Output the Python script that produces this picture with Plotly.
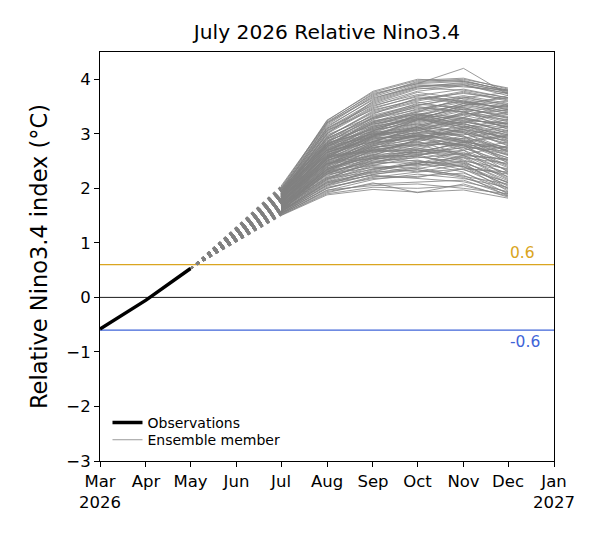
import plotly.graph_objects as go

# ---- data ----
obs_dates = ["2026-03-01", "2026-04-01", "2026-05-01"]
obs_vals = [-0.58, -0.05, 0.53]

member_dates = ["2026-07-01", "2026-08-01", "2026-09-01", "2026-10-01", "2026-11-01", "2026-12-01"]
members = [
    [1.50, 1.88, 1.98, 1.93, 1.97, 1.82],
    [1.51, 1.92, 2.10, 1.92, 2.08, 1.84],
    [1.53, 1.97, 2.05, 2.08, 2.00, 1.90],
    [1.54, 2.02, 2.18, 2.22, 2.28, 1.98],
    [1.56, 2.06, 2.25, 2.38, 2.22, 2.08],
    [1.57, 2.10, 2.32, 2.46, 2.58, 2.18],
    [1.58, 2.14, 2.40, 2.30, 2.44, 2.04],
    [1.59, 2.18, 2.48, 2.62, 2.70, 2.38],
    [1.60, 2.22, 2.55, 2.70, 2.52, 2.28],
    [1.61, 2.26, 2.58, 2.76, 2.88, 2.62],
    [1.62, 2.30, 2.50, 2.56, 2.64, 2.44],
    [1.63, 2.34, 2.70, 2.84, 2.80, 2.56],
    [1.64, 2.32, 2.64, 2.90, 3.04, 2.82],
    [1.65, 2.44, 2.76, 2.80, 2.96, 2.68],
    [1.66, 2.48, 2.82, 3.00, 3.12, 2.92],
    [1.67, 2.38, 2.62, 2.66, 2.74, 2.48],
    [1.68, 2.54, 2.90, 3.06, 3.18, 3.02],
    [1.69, 2.50, 2.86, 3.10, 2.94, 2.74],
    [1.70, 2.58, 2.96, 3.16, 3.30, 3.12],
    [1.71, 2.52, 2.72, 2.80, 2.60, 2.34],
    [1.72, 2.64, 3.00, 3.22, 3.36, 3.26],
    [1.73, 2.60, 3.04, 3.26, 3.14, 2.96],
    [1.74, 2.68, 3.12, 3.30, 3.46, 3.32],
    [1.75, 2.66, 2.92, 2.96, 3.02, 2.66],
    [1.76, 2.74, 3.16, 3.40, 3.52, 3.42],
    [1.77, 2.70, 3.02, 3.12, 2.86, 2.52],
    [1.78, 2.80, 3.22, 3.46, 3.60, 3.46],
    [1.79, 2.76, 3.26, 3.50, 3.40, 3.22],
    [1.80, 2.84, 3.30, 3.56, 3.70, 3.56],
    [1.81, 2.90, 3.24, 3.36, 3.24, 3.04],
    [1.82, 2.94, 3.40, 3.60, 3.76, 3.60],
    [1.83, 2.86, 3.36, 3.66, 3.56, 3.36],
    [1.84, 3.00, 3.46, 3.70, 3.82, 3.66],
    [1.85, 3.04, 3.50, 3.76, 3.64, 3.50],
    [1.86, 3.08, 3.56, 3.82, 3.90, 3.70],
    [1.87, 3.00, 3.60, 3.86, 3.94, 3.76],
    [1.88, 3.12, 3.64, 3.90, 3.86, 3.80],
    [1.90, 3.18, 3.70, 3.96, 4.00, 3.84],
    [1.93, 3.20, 3.74, 3.92, 4.20, 3.72],
    [1.96, 3.24, 3.78, 4.00, 3.96, 3.80],
    [2.00, 3.25, 3.76, 3.98, 4.02, 3.82],
    [2.04, 3.22, 3.72, 3.94, 3.98, 3.78],
    [1.55, 2.40, 2.95, 3.25, 3.45, 3.35],
    [1.60, 2.55, 3.05, 3.35, 3.55, 3.50],
    [1.95, 2.70, 2.85, 2.90, 2.75, 2.40],
    [2.00, 2.80, 3.00, 2.95, 2.70, 2.20],
    [1.90, 2.60, 2.70, 2.65, 2.50, 2.10],
    [1.85, 2.45, 2.55, 2.50, 2.40, 1.95],
    [1.65, 2.20, 2.35, 2.45, 2.70, 2.85],
    [1.70, 2.35, 2.60, 2.90, 3.20, 3.40],
    [1.75, 2.50, 2.80, 3.05, 3.30, 3.55],
    [1.80, 2.55, 2.75, 2.85, 3.10, 3.20],
    [1.58, 2.28, 2.52, 2.66, 2.84, 2.96],
    [1.62, 2.40, 2.68, 2.74, 2.62, 2.78],
    [1.72, 2.46, 2.66, 2.72, 2.92, 3.06],
    [1.78, 2.62, 2.88, 3.02, 2.98, 3.14],
    [1.82, 2.72, 2.98, 3.08, 3.28, 3.00],
    [1.88, 2.82, 3.08, 3.18, 3.34, 3.16],
    [1.92, 2.88, 3.14, 3.28, 3.48, 3.28],
    [1.66, 2.36, 2.58, 2.62, 2.38, 2.26],
    [1.60, 2.24, 2.44, 2.52, 2.34, 2.12],
    [1.56, 2.12, 2.28, 2.40, 2.56, 2.46],
    [1.68, 2.42, 2.74, 2.86, 2.62, 2.52],
    [1.74, 2.56, 2.84, 2.94, 3.06, 2.86],
    [1.84, 2.78, 3.12, 3.32, 3.20, 2.90],
    [1.86, 2.92, 3.28, 3.44, 3.62, 3.44],
    [1.94, 2.98, 3.32, 3.52, 3.68, 3.52],
    [1.98, 3.10, 3.52, 3.72, 3.58, 3.40],
    [1.52, 1.96, 2.16, 2.26, 2.18, 2.02],
    [1.54, 2.00, 2.22, 2.20, 2.36, 2.30],
    [1.57, 2.08, 2.30, 2.48, 2.46, 2.22],
    [1.63, 2.30, 2.46, 2.60, 2.76, 2.68],
    [1.70, 2.44, 2.78, 2.98, 2.88, 2.60],
    [1.76, 2.58, 2.94, 3.14, 3.26, 3.18],
    [1.80, 2.64, 3.06, 3.24, 3.42, 3.08],
    [1.89, 2.96, 3.38, 3.58, 3.44, 3.24],
    [1.97, 3.06, 3.44, 3.62, 3.78, 3.62],
    [1.64, 2.28, 2.42, 2.36, 2.50, 2.36],
    [1.73, 2.48, 2.70, 2.78, 2.84, 2.76],
    [1.83, 2.66, 2.90, 3.02, 3.14, 2.98],
    [1.51, 1.90, 2.02, 2.00, 2.05, 1.86],
    [1.53, 1.94, 2.08, 2.12, 2.15, 1.88],
    [1.55, 2.00, 2.20, 2.30, 2.35, 2.00],
    [1.57, 2.04, 2.26, 2.34, 2.20, 1.92],
    [1.59, 2.12, 2.36, 2.44, 2.40, 2.06],
    [1.61, 2.16, 2.42, 2.58, 2.48, 2.14],
    [1.62, 2.20, 2.46, 2.68, 2.82, 2.50],
    [1.64, 2.26, 2.56, 2.72, 2.66, 2.32],
    [1.66, 2.30, 2.62, 2.80, 2.92, 2.70],
    [1.67, 2.34, 2.66, 2.88, 3.00, 2.88],
    [1.69, 2.40, 2.74, 2.92, 3.08, 2.94],
    [1.70, 2.46, 2.80, 2.98, 2.90, 2.64],
    [1.72, 2.50, 2.86, 3.08, 3.22, 3.10],
    [1.73, 2.54, 2.92, 3.12, 3.04, 2.80],
    [1.75, 2.58, 2.98, 3.20, 3.38, 3.30],
    [1.76, 2.62, 3.02, 3.28, 3.18, 2.98],
    [1.78, 2.66, 3.08, 3.34, 3.50, 3.38],
    [1.79, 2.70, 3.14, 3.38, 3.30, 3.12],
    [1.81, 2.76, 3.20, 3.42, 3.58, 3.48],
    [1.82, 2.80, 3.18, 3.30, 3.12, 2.84],
    [1.84, 2.84, 3.28, 3.52, 3.66, 3.54],
    [1.85, 2.90, 3.34, 3.54, 3.48, 3.30],
    [1.87, 2.94, 3.42, 3.64, 3.74, 3.64],
    [1.88, 3.02, 3.48, 3.68, 3.60, 3.44],
    [1.90, 3.06, 3.54, 3.78, 3.88, 3.74],
    [1.91, 3.10, 3.58, 3.84, 3.80, 3.66],
    [1.94, 3.14, 3.62, 3.88, 3.92, 3.78],
    [1.99, 3.16, 3.68, 3.92, 3.96, 3.80],
    [2.02, 3.20, 3.66, 3.86, 3.90, 3.74],
    [1.60, 2.30, 2.72, 3.02, 3.24, 3.20],
    [1.65, 2.42, 2.84, 3.14, 3.36, 3.44],
    [1.72, 2.56, 2.96, 3.26, 3.52, 3.60],
    [1.78, 2.68, 3.06, 3.32, 3.56, 3.66],
    [1.85, 2.74, 3.00, 3.06, 2.96, 2.46],
    [1.90, 2.78, 2.94, 2.92, 2.80, 2.30],
    [1.95, 2.84, 3.04, 3.00, 2.84, 2.56],
    [1.80, 2.58, 2.68, 2.70, 2.56, 2.16],
    [1.74, 2.46, 2.60, 2.58, 2.46, 2.00],
    [1.68, 2.32, 2.48, 2.46, 2.30, 1.90],
    [1.62, 2.18, 2.30, 2.34, 2.24, 1.86],
    [1.58, 2.10, 2.24, 2.18, 2.12, 1.94],
    [1.66, 2.26, 2.38, 2.42, 2.60, 2.54],
    [1.70, 2.38, 2.56, 2.64, 2.86, 2.98],
    [1.76, 2.52, 2.78, 2.90, 3.12, 3.26],
    [1.82, 2.66, 2.94, 3.10, 3.40, 3.52],
    [1.88, 2.76, 3.10, 3.26, 3.52, 3.70],
    [1.92, 2.86, 3.22, 3.40, 3.66, 3.76],
    [1.64, 2.34, 2.54, 2.60, 2.80, 2.74],
    [1.69, 2.44, 2.70, 2.82, 2.78, 2.62],
    [1.75, 2.54, 2.82, 2.96, 2.86, 2.70],
    [1.81, 2.62, 2.86, 2.98, 3.08, 2.92],
    [1.86, 2.70, 2.96, 3.12, 3.22, 3.06],
    [1.91, 2.80, 3.18, 3.34, 3.28, 3.14],
    [1.96, 2.92, 3.30, 3.48, 3.40, 3.18],
    [1.77, 2.72, 3.10, 3.28, 3.08, 2.78],
    [1.83, 2.82, 3.20, 3.36, 3.16, 2.88],
    [1.71, 2.60, 2.98, 3.18, 3.02, 2.72],
    [1.63, 2.36, 2.78, 2.96, 2.78, 2.42],
    [1.57, 2.16, 2.52, 2.70, 2.60, 2.26],
    [1.54, 2.06, 2.34, 2.50, 2.42, 2.10],
]

thresholds = [0.6, -0.6]
threshold_labels = ["0.6", "-0.6"]
threshold_colors = ["#DAA520", "#3F64D8"]

tick_dates = ["2026-03-01", "2026-04-01", "2026-05-01", "2026-06-01", "2026-07-01", "2026-08-01",
              "2026-09-01", "2026-10-01", "2026-11-01", "2026-12-01", "2027-01-01"]
tick_text = ["Mar<br>2026", "Apr", "May", "Jun", "Jul", "Aug", "Sep", "Oct", "Nov", "Dec", "Jan<br>2027"]

FONT = "DejaVu Sans"
GRAY = "#808080"

fig = go.Figure()

# dashed bridging segments from last observation to first forecast month
for m in members:
    fig.add_trace(go.Scatter(
        x=[obs_dates[-1], member_dates[0]], y=[obs_vals[-1], m[0]],
        mode="lines", line=dict(color=GRAY, width=1.2, dash="3px,4.4px"),
        showlegend=False, hoverinfo="skip"))

# ensemble members
for i, m in enumerate(members):
    fig.add_trace(go.Scatter(
        x=member_dates, y=m, mode="lines",
        line=dict(color=GRAY, width=0.8),
        name="Ensemble member", showlegend=(i == 0), legend="legend2",
        hoverinfo="skip"))

# observations
fig.add_trace(go.Scatter(
    x=obs_dates, y=obs_vals, mode="lines",
    line=dict(color="black", width=3.4),
    name="Observations", legend="legend"))

shapes = [dict(type="line", xref="paper", x0=0, x1=1, yref="y", y0=0, y1=0,
               line=dict(color="black", width=0.9), layer="below")]
annotations = []
for t, lab, c in zip(thresholds, threshold_labels, threshold_colors):
    shapes.append(dict(type="line", xref="paper", x0=0, x1=1, yref="y", y0=t, y1=t,
                       line=dict(color=c, width=1.3), layer="below"))
    annotations.append(dict(x=member_dates[-1], y=t, xref="x", yref="y",
                            text=lab, showarrow=False, xanchor="left",
                            yanchor="bottom" if t > 0 else "top",
                            yshift=1 if t > 0 else -1,
                            font=dict(family=FONT, size=15.5, color=c)))

leg_common = dict(xanchor="left", yanchor="middle", bgcolor="rgba(0,0,0,0)",
                  font=dict(family=FONT, size=14, color="black"),
                  tracegroupgap=0, itemwidth=30)

fig.update_layout(
    width=600, height=540,
    margin=dict(l=100, r=46, t=52, b=79),
    paper_bgcolor="white", plot_bgcolor="white",
    font=dict(family=FONT, color="black"),
    title=dict(text="July 2026 Relative Nino3.4", x=0.5, xref="paper",
               y=1 - 32 / 540, yref="container", yanchor="middle", xanchor="center",
               font=dict(family=FONT, size=20.2, color="black")),
    shapes=shapes, annotations=annotations,
    legend=dict(x=0.0165, y=0.093, **leg_common),
    legend2=dict(x=0.0165, y=0.051, **leg_common),
    showlegend=True,
)

fig.update_xaxes(
    type="date", range=[tick_dates[0], tick_dates[-1]],
    tickmode="array", tickvals=tick_dates, ticktext=tick_text,
    showgrid=False, zeroline=False,
    showline=True, linecolor="black", linewidth=1, mirror=True,
    ticks="outside", ticklen=5, tickwidth=1, tickcolor="black",
    tickfont=dict(family=FONT, size=16.5, color="black"),
)
fig.update_yaxes(
    range=[-3, 4.5], tickmode="array", tickvals=[-3, -2, -1, 0, 1, 2, 3, 4],
    showgrid=False, zeroline=False,
    showline=True, linecolor="black", linewidth=1, mirror=True,
    ticks="outside", ticklen=5, tickwidth=1, tickcolor="black",
    tickfont=dict(family=FONT, size=16.5, color="black"),
    title=dict(text="Relative Nino3.4 index (°C)", standoff=12,
               font=dict(family=FONT, size=22.5, color="black")),
)

fig.write_html("out.html")
